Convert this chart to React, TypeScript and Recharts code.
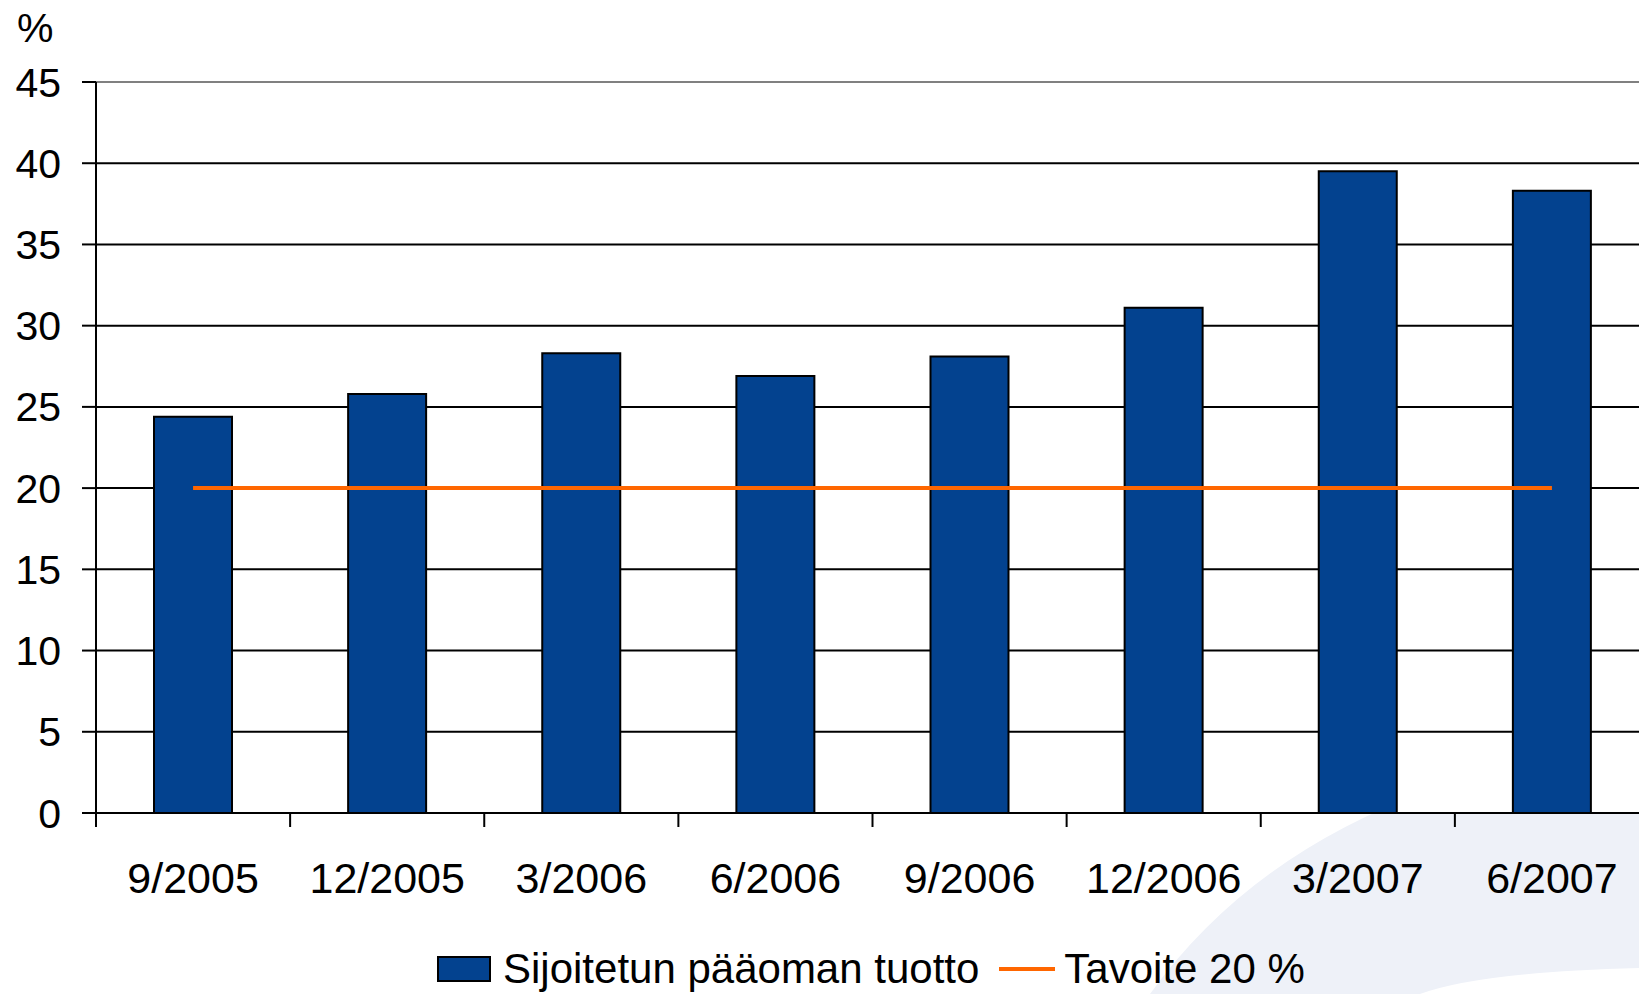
import React from 'react';
import { ComposedChart, Bar, Line, XAxis, YAxis, CartesianGrid } from 'recharts';

const categories = ['9/2005', '12/2005', '3/2006', '6/2006', '9/2006', '12/2006', '3/2007', '6/2007'];
const returnValues = [24.4, 25.8, 28.3, 26.9, 28.1, 31.1, 39.5, 38.3];
const targetValues = [20, 20, 20, 20, 20, 20, 20, 20];
const yTicks = [0, 5, 10, 15, 20, 25, 30, 35, 40, 45];
const seriesNames = ['Sijoitetun pääoman tuotto', 'Tavoite 20 %'];

const data = categories.map((c, i) => ({ cat: c, value: returnValues[i], target: targetValues[i] }));

const FONT = '"Liberation Sans", Arial, Helvetica, sans-serif';
const BLUE = '#03428F';
const ORANGE = '#FF6600';
const CHART_W = 1657;
const PLOT_LEFT = 96;
const PLOT_RIGHT = CHART_W - 8;
const BAND = (PLOT_RIGHT - PLOT_LEFT) / categories.length;

const XTick = (props: any) => {
  const { x, y, payload } = props;
  const bx = x - BAND / 2;
  return (
    <g>
      <line x1={bx} x2={bx} y1={y} y2={y + 14} stroke="#000" strokeWidth={2} />
      <text x={x} y={y + 80} textAnchor="middle" fontSize={43} fontFamily={FONT} fill="#000">
        {payload.value}
      </text>
    </g>
  );
};

const GridLine = (props: any) => {
  const { x1, x2, y1, y2 } = props;
  const isTop = Math.abs(y1 - 82) < 3;
  return <line x1={x1} x2={x2} y1={y1} y2={y2} stroke={isTop ? '#808080' : '#000'} strokeWidth={2} />;
};

export default function App() {
  return (
    <div style={{ position: 'absolute', left: 0, top: 0, width: 1639, height: 994, overflow: 'hidden', background: '#fff', fontFamily: FONT }}>
      <svg width={1639} height={994} style={{ position: 'absolute', left: 0, top: 0 }}>
        <path d="M 1150 994 Q 1250 855 1430 790 L 1639 740 L 1639 968 Q 1480 972 1420 994 Z" fill="#EEF1F8" />
      </svg>
      <div style={{ position: 'absolute', left: 0, top: 0 }}>
        <ComposedChart width={CHART_W} height={994} data={data} margin={{ top: 82, right: 8, bottom: 81, left: 0 }}>
          <CartesianGrid vertical={false} horizontal={GridLine as any} fill="#fff" fillOpacity={1} />
          <XAxis
            dataKey="cat"
            height={100}
            tickSize={0}
            tickMargin={0}
            interval={0}
            tick={<XTick />}
            axisLine={{ stroke: '#000', strokeWidth: 2 }}
            tickLine={false}
          />
          <YAxis
            width={96}
            domain={[0, 45]}
            ticks={yTicks}
            interval={0}
            tickSize={14}
            tickMargin={21}
            axisLine={{ stroke: '#000', strokeWidth: 2 }}
            tickLine={{ stroke: '#000', strokeWidth: 2 }}
            tick={{ fontSize: 41, fontFamily: FONT, fill: '#000' }}
          />
          <Bar dataKey="value" name={seriesNames[0]} fill={BLUE} stroke="#000" strokeWidth={2} barSize={78} isAnimationActive={false} />
          <Line dataKey="target" name={seriesNames[1]} stroke={ORANGE} strokeWidth={4} dot={false} activeDot={false} isAnimationActive={false} />
        </ComposedChart>
      </div>
      <div style={{ position: 'absolute', left: 17, top: 8, fontSize: 41, lineHeight: '41px', color: '#000' }}>%</div>
      <div style={{ position: 'absolute', left: 437, top: 949, height: 40, display: 'flex', alignItems: 'center', fontSize: 42, lineHeight: '40px', color: '#000', whiteSpace: 'nowrap' }}>
        <span style={{ display: 'inline-block', width: 50, height: 22, background: BLUE, border: '2px solid #000', marginRight: 12 }} />
        <span>{seriesNames[0]}</span>
        <span style={{ display: 'inline-block', width: 56, height: 4, background: ORANGE, marginLeft: 20, marginRight: 9 }} />
        <span>{seriesNames[1]}</span>
      </div>
    </div>
  );
}
